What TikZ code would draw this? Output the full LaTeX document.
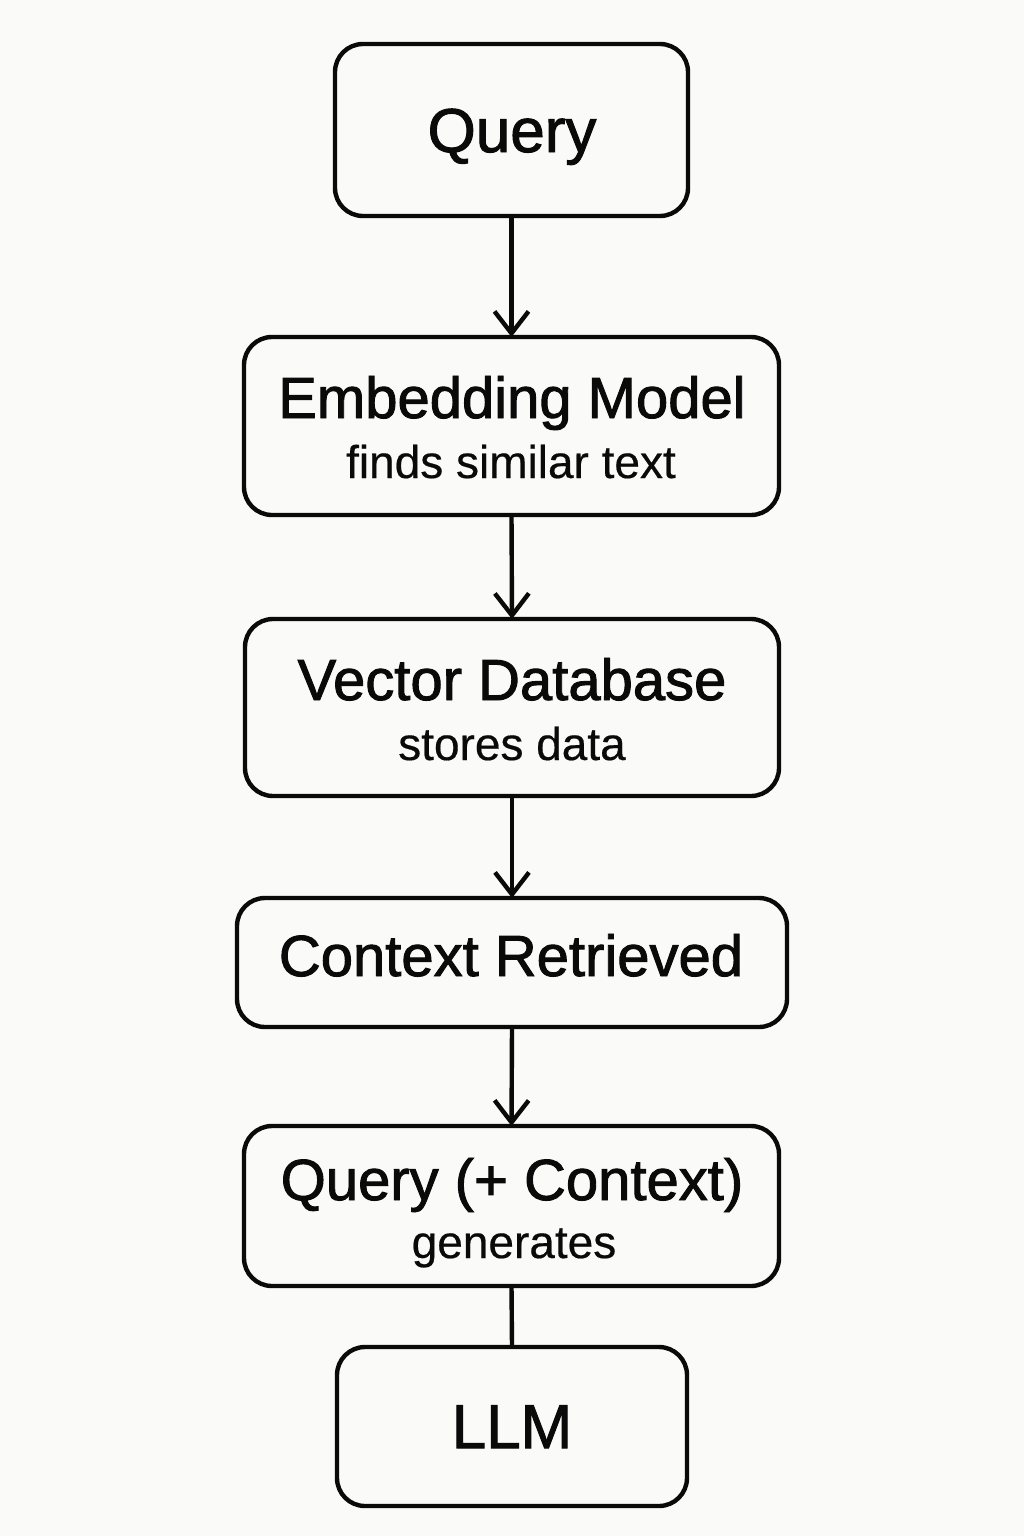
\documentclass[tikz,border=0pt]{standalone}
\usepackage{fontspec}
\setmainfont{Liberation Sans}
\newfontfamily\medfont[FakeBold=1.6]{Liberation Sans}
\newfontfamily\subfont[FakeBold=0.4]{Liberation Sans}
\usetikzlibrary{arrows.meta}
\definecolor{bg}{HTML}{FAFAF8}
\definecolor{ink}{HTML}{0A0A0A}
\begin{document}
\begin{tikzpicture}[x=0.5pt,y=-0.5pt,
  box/.style={draw=ink,line width=2.2pt,rounded corners=14pt,outer sep=0pt,inner sep=0pt},
  ttl/.style={anchor=base,inner sep=0pt,text=ink,font=\medfont\fontsize{29}{34}\selectfont},
  bigttl/.style={anchor=base,inner sep=0pt,text=ink,font=\medfont\fontsize{31}{36}\selectfont},
  sub/.style={anchor=base,inner sep=0pt,text=ink,font=\subfont\fontsize{23}{28}\selectfont},
  arr/.style={draw=ink,line width=2.2pt,-{Straight Barb[length=11pt,width=17pt,line width=2.2pt]}},
  link/.style={draw=ink,line width=2.2pt}]
\fill[bg] (0,0) rectangle (1024,1536);
\useasboundingbox (0,0) rectangle (1024,1536);
\node[box,minimum width=176.5pt,minimum height=86pt] (q) at (511.5,130) {};
\node[box,minimum width=267.5pt,minimum height=89pt] (e) at (511.5,426) {};
\node[box,minimum width=267pt,minimum height=88.5pt] (v) at (512,707.5) {};
\node[box,minimum width=275pt,minimum height=64.5pt] (c) at (512,962.5) {};
\node[box,minimum width=267.5pt,minimum height=80pt] (qc) at (511.5,1206) {};
\node[box,minimum width=175pt,minimum height=79.5pt] (l) at (512,1426.5) {};
\node[bigttl] (tq) at (512,152) {Query};
\node[ttl] (te) at (512,418) {Embedding Model};
\node[sub] (se) at (511,478) {finds similar text};
\node[ttl] (tv) at (512,700) {Vector Database};
\node[sub] (sv) at (512,760) {stores data};
\node[ttl] (tc) at (511,976) {Context Retrieved};
\node[ttl] (tqc) at (512,1200) {Query (+ Context)};
\node[sub] (sqc) at (514,1258) {generates};
\node[bigttl] (tl) at (512,1448) {LLM};
\draw[arr] (q.south) -- (e.north);
\draw[arr] (e.south) -- (v.north);
\draw[arr] (v.south) -- (c.north);
\draw[arr] (c.south) -- (qc.north);
\draw[link] (qc.south) -- (l.north);
\end{tikzpicture}
\end{document}
